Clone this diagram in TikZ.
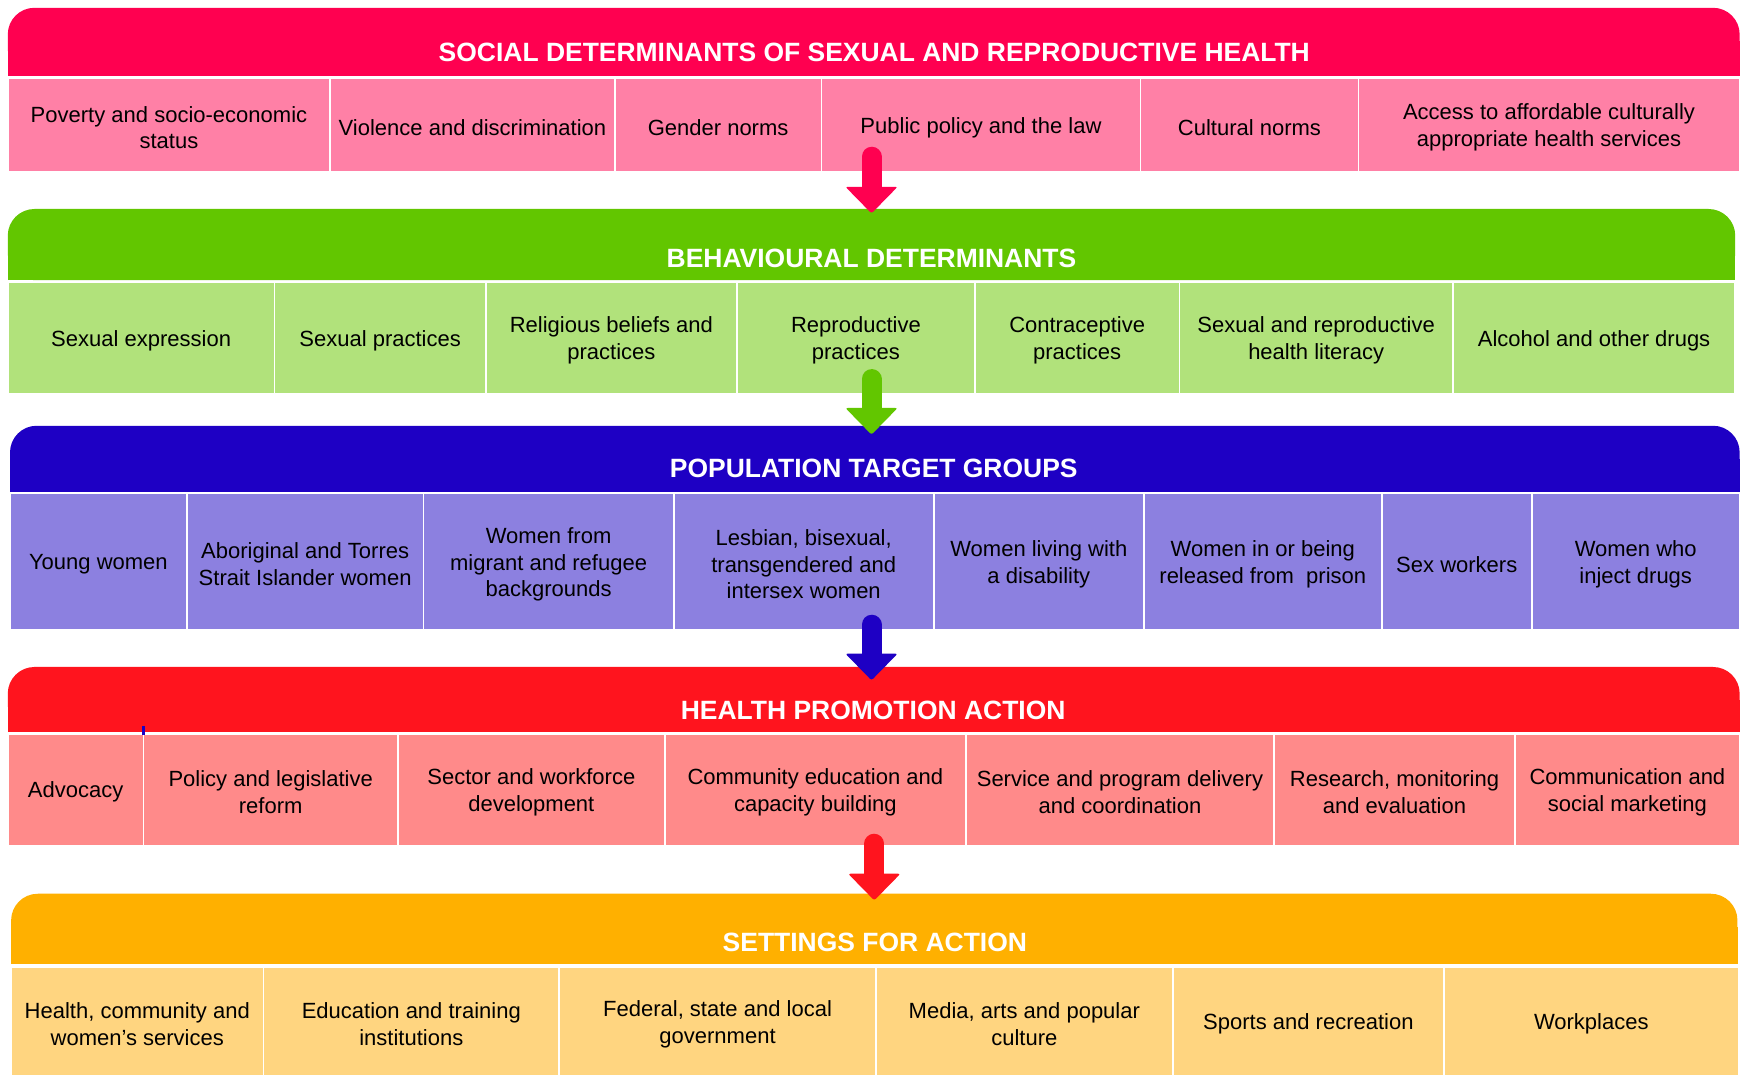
\documentclass[tikz,border=0pt]{standalone}
\usepackage{fontspec}
\setmainfont{Liberation Sans}
\usetikzlibrary{fit}
\definecolor{socH}{RGB}{255,0,80}
\definecolor{socC}{RGB}{255,128,166}
\definecolor{behH}{RGB}{98,198,0}
\definecolor{behC}{RGB}{177,226,123}
\definecolor{popH}{RGB}{30,0,196}
\definecolor{popC}{RGB}{140,128,224}
\definecolor{hpaH}{RGB}{255,20,30}
\definecolor{hpaC}{RGB}{255,138,138}
\definecolor{setH}{RGB}{255,176,0}
\definecolor{setC}{RGB}{255,213,128}
\tikzset{
  cellbox/.style={inner sep=0pt, draw=white, line width=1.6pt},
  celltext/.style={inner sep=0pt, align=center,
    font=\fontsize{19.8}{24}\selectfont, text=black},
  hdrband/.style={inner sep=0pt, rounded corners=24pt},
  hdrtext/.style={inner sep=0pt, text=white, font=\fontsize{23.8}{28}\selectfont\bfseries},
  shaft/.style={line width=18pt, line cap=round},
}
% name, x1, y1, x2, y2, colour, text
\newcommand\cellnode[7]{%
  \pgfmathsetmacro\cw{#4-#2}\pgfmathsetmacro\ch{#5-#3}%
  \pgfmathsetmacro\cx{(#2+#4)/2}\pgfmathsetmacro\cy{(#3+#5)/2}%
  \node[cellbox, fill=#6, minimum width=\cw pt, minimum height=\ch pt] (#1) at (\cx,\cy) {};
  \node[celltext] (#1t) at ([yshift=-2.2pt]#1.center) {#7};}
% name, x1, y1, x2, y2, colour
\newcommand\hdrnode[6]{%
  \node[hdrband, fill=#6, fit={(#2,#3) (#4,#5)}] (#1) {};
  \fill[#6] ([yshift=-30pt]#1.north west) rectangle (#1.south east);}
% colour, start coordinate, tip coordinate
\newcommand\flowarrow[3]{%
  \draw[shaft, #1] (#2) -- ([yshift=22pt]#3);
  \fill[#1, rounded corners=2pt] ([shift={(-23.5,-24)}]#3) -- ([shift={(23.5,-24)}]#3) -- (#3) -- cycle;}
\begin{document}
\begin{tikzpicture}[x=1pt, y=-1pt]
\useasboundingbox (0,0) rectangle (1568,967);
\fill[white] (0,0) rectangle (1568,967);

% ---------- Row 1: social determinants
\hdrnode{h1}{7}{7}{1565}{68}{socH}
\node[hdrtext] (h1t) at (786.5,47) {SOCIAL DETERMINANTS OF SEXUAL AND REPRODUCTIVE HEALTH};
\cellnode{c11}{7}{70}{297}{155}{socC}{Poverty and socio-economic\\status}
\cellnode{c12}{297}{70}{553}{155}{socC}{Violence and discrimination}
\cellnode{c13}{553}{70}{739}{155}{socC}{Gender norms}
\cellnode{c14}{739}{70}{1026}{155}{socC}{Public policy and the law}
\cellnode{c15}{1026}{70}{1222}{155}{socC}{Cultural norms}
\cellnode{c16}{1222}{70}{1565}{155}{socC}{Access to affordable culturally\\appropriate health services}

% ---------- Row 2: behavioural determinants
\hdrnode{h2}{7}{188}{1561}{252}{behH}
\node[hdrtext] (h2t) at (784,232) {BEHAVIOURAL DETERMINANTS};
\cellnode{c21}{7}{254}{247}{354}{behC}{Sexual expression}
\cellnode{c22}{247}{254}{437}{354}{behC}{Sexual practices}
\cellnode{c23}{437}{254}{663}{354}{behC}{Religious beliefs and\\practices}
\cellnode{c24}{663}{254}{877}{354}{behC}{Reproductive\\practices}
\cellnode{c25}{877}{254}{1061}{354}{behC}{Contraceptive\\practices}
\cellnode{c26}{1061}{254}{1307}{354}{behC}{Sexual and reproductive\\health literacy}
\cellnode{c27}{1307}{254}{1561}{354}{behC}{Alcohol and other drugs}

% ---------- Row 3: population target groups
\hdrnode{h3}{9}{383}{1565}{442}{popH}
\node[hdrtext] (h3t) at (786,421) {POPULATION TARGET GROUPS};
\cellnode{c31}{9}{444}{168}{567}{popC}{Young women}
\cellnode{c32}{168}{444}{381}{567}{popC}{Aboriginal and Torres\\Strait Islander women}
\cellnode{c33}{381}{444}{606}{567}{popC}{Women from\\migrant and refugee\\backgrounds}
\cellnode{c34}{606}{444}{840}{567}{popC}{Lesbian, bisexual,\\transgendered and\\intersex women}
\cellnode{c35}{840}{444}{1029}{567}{popC}{Women living with\\a disability}
\cellnode{c36}{1029}{444}{1243}{567}{popC}{Women in or being\\released from\ \ prison}
\cellnode{c37}{1243}{444}{1378}{567}{popC}{Sex workers}
\cellnode{c38}{1378}{444}{1565}{567}{popC}{Women who\\inject drugs}

% ---------- Row 4: health promotion action
\hdrnode{h4}{7}{600}{1565}{658}{hpaH}
\node[hdrtext] (h4t) at (785.5,639) {HEALTH PROMOTION ACTION};
\cellnode{c41}{7}{660}{129}{761}{hpaC}{Advocacy}
\cellnode{c42}{129}{660}{358}{761}{hpaC}{Policy and legislative\\reform}
\cellnode{c43}{358}{660}{598}{761}{hpaC}{Sector and workforce\\development}
\cellnode{c44}{598}{660}{869}{761}{hpaC}{Community education and\\capacity building}
\cellnode{c45}{869}{660}{1146}{761}{hpaC}{Service and program delivery\\and coordination}
\cellnode{c46}{1146}{660}{1363}{761}{hpaC}{Research, monitoring\\and evaluation}
\cellnode{c47}{1363}{660}{1565}{761}{hpaC}{Communication and\\social marketing}
\draw[popH, line width=2pt] (129,653) -- (129,661);

% ---------- Row 5: settings for action
\hdrnode{h5}{10}{804}{1563}{867}{setH}
\node[hdrtext] (h5t) at (787,848) {SETTINGS FOR ACTION};
\cellnode{c51}{10}{870}{237}{968}{setC}{Health, community and\\women’s services}
\cellnode{c52}{237}{870}{503}{968}{setC}{Education and training\\institutions}
\cellnode{c53}{503}{870}{788}{968}{setC}{Federal, state and local\\government}
\cellnode{c54}{788}{870}{1055}{968}{setC}{Media, arts and popular\\culture}
\cellnode{c55}{1055}{870}{1299}{968}{setC}{Sports and recreation}
\cellnode{c56}{1299}{870}{1564}{968}{setC}{Workplaces}

% ---------- Arrows
\coordinate (a1s) at (784,141);  \coordinate (a1t) at (784,192);
\coordinate (a2s) at (784,341);  \coordinate (a2t) at (784,391);
\coordinate (a3s) at (784,562);  \coordinate (a3t) at (784,612);
\coordinate (a4s) at (786.5,759); \coordinate (a4t) at (786.5,810);
\flowarrow{socH}{a1s}{a1t}
\flowarrow{behH}{a2s}{a2t}
\flowarrow{popH}{a3s}{a3t}
\flowarrow{hpaH}{a4s}{a4t}
\end{tikzpicture}
\end{document}
